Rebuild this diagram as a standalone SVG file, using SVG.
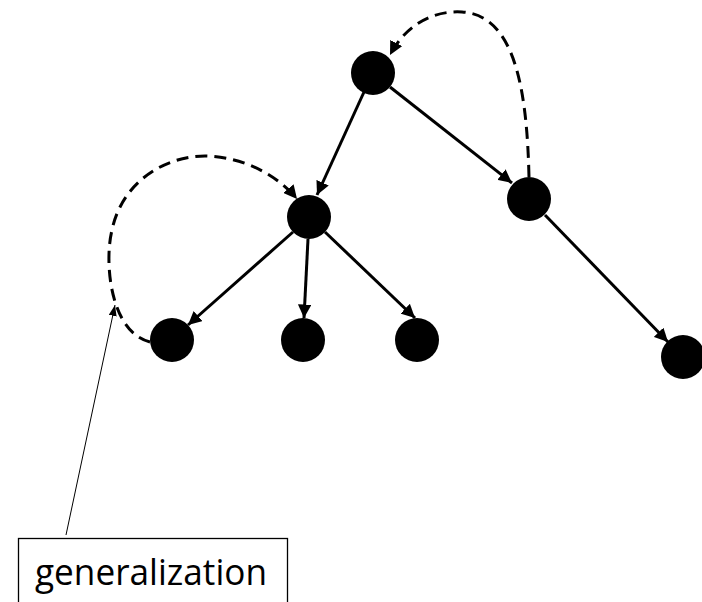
<svg xmlns="http://www.w3.org/2000/svg" width="702" height="602" viewBox="0 0 702 602">
  <style>
    .node { fill: #000; }
    .edge { fill: none; stroke: #000; stroke-width: 3; marker-end: url(#head); }
    .gen { fill: none; stroke: #000; stroke-width: 3; stroke-dasharray: 12 7; marker-end: url(#head); }
    .note { fill: none; stroke: #000; stroke-width: 1; marker-end: url(#thin); }
    .label { font-family: "Open Sans", "Liberation Sans", sans-serif; font-size: 37px; fill: #000; }
  </style>
  <defs>
    <marker id="head" viewBox="0 0 10 10" refX="10" refY="5" markerWidth="4.5" markerHeight="4.5" markerUnits="strokeWidth" orient="auto">
      <path d="M0,0 L10,5 L0,10 z" fill="#000"/>
    </marker>
    <marker id="thin" viewBox="0 0 10 10" refX="10" refY="5" markerWidth="11" markerHeight="8" markerUnits="userSpaceOnUse" orient="auto" preserveAspectRatio="none">
      <path d="M0,0 L10,5 L0,10 z" fill="#000"/>
    </marker>
  </defs>

  <g id="connectors">
    <line class="edge" x1="364" y1="92" x2="317" y2="195"/>
    <line class="edge" x1="390" y1="87" x2="512" y2="183"/>
    <line class="edge" x1="293" y1="232" x2="188" y2="325"/>
    <line class="edge" x1="308" y1="239" x2="304" y2="318"/>
    <line class="edge" x1="325" y1="232" x2="415" y2="318"/>
    <line class="edge" x1="545" y1="215" x2="668" y2="342"/>
    <path class="gen" d="M529,177 C527,90 515,15 462,12 C430,10 404,28 390,55"/>
    <path class="gen" d="M150,342 C110,332 104,262 112,230 C122,182 165,156 205,156 C245,157 278,176 297,199"/>
    <line class="note" x1="66" y1="535" x2="115" y2="305"/>
  </g>

  <g id="n-root"><circle class="node" cx="373" cy="73" r="22"/></g>
  <g id="n-mid"><circle class="node" cx="309" cy="217" r="22"/></g>
  <g id="n-right"><circle class="node" cx="529" cy="199" r="22"/></g>
  <g id="n-leaf1"><circle class="node" cx="172" cy="340" r="22"/></g>
  <g id="n-leaf2"><circle class="node" cx="303" cy="340" r="22"/></g>
  <g id="n-leaf3"><circle class="node" cx="417" cy="340" r="22"/></g>
  <g id="n-leaf4"><circle class="node" cx="683" cy="357" r="22"/></g>

  <g id="generalization-label">
    <rect x="18.5" y="538.5" width="269" height="80" fill="#fff" stroke="#000" stroke-width="1.3"/>
    <text class="label" x="151" y="585" text-anchor="middle" textLength="232" lengthAdjust="spacingAndGlyphs">generalization</text>
  </g>
</svg>
